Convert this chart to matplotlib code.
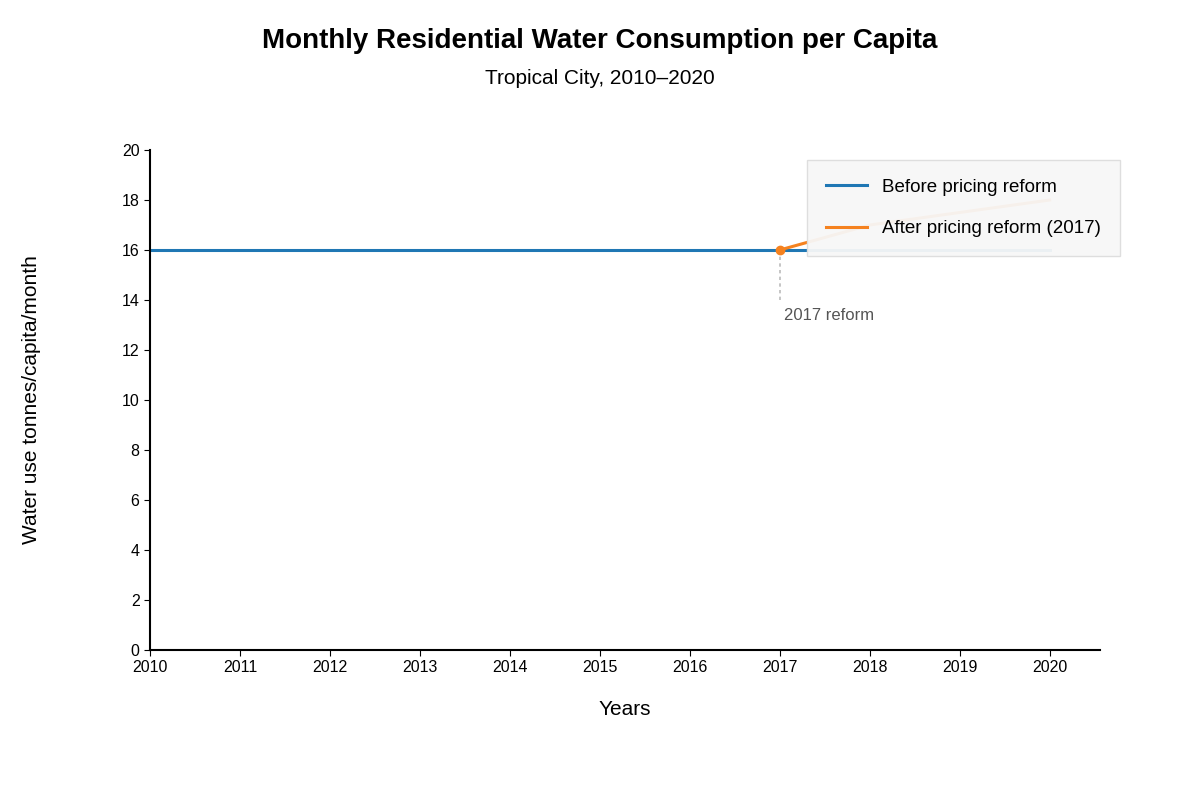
import matplotlib.pyplot as plt

plt.rcParams['font.family'] = ['Liberation Sans', 'DejaVu Sans']

# data
years_before = [2010, 2011, 2012, 2013, 2014, 2015, 2016, 2017, 2018, 2019, 2020]
use_before = [16, 16, 16, 16, 16, 16, 16, 16, 16, 16, 16]
years_after = [2017, 2018, 2019, 2020]
use_after = [16, 17.0, 17.5, 18.0]
year_ticks = list(range(2010, 2021))

fig = plt.figure(figsize=(12, 8), dpi=100)
ax = fig.add_axes([0.125, 0.1875, 0.7917, 0.625])

ax.plot(years_before, use_before, color='#1f77b4', lw=2.2, label='Before pricing reform', zorder=2)
ax.plot(years_after, use_after, color='#f5821f', lw=2.2, label='After pricing reform (2017)', zorder=3)
ax.plot([2017], [16], 'o', color='#f5821f', ms=6, zorder=4)
ax.plot([2017, 2017], [14, 16], ls=(0, (2, 2)), color='#bbbbbb', lw=1.2, zorder=1)
ax.text(2017.05, 13.4, '2017 reform', fontsize=12, color='#555555', va='center')

ax.set_xlim(2010, 2020.56)
ax.set_ylim(0, 20)
ax.set_xticks(year_ticks)
ax.set_yticks(range(0, 21, 2))
ax.tick_params(labelsize=11.5, length=4)
for s in ['top', 'right']:
    ax.spines[s].set_visible(False)
ax.spines['left'].set_linewidth(1.5)
ax.spines['bottom'].set_linewidth(1.5)

ax.set_xlabel('Years', fontsize=15, labelpad=18)
ax.set_ylabel('Water use tonnes/capita/month', fontsize=15, labelpad=58)

leg = ax.legend(loc='upper right', bbox_to_anchor=(1.021, 0.98), fontsize=13.5,
                frameon=True, fancybox=False, framealpha=0.95, borderpad=1.0,
                labelspacing=1.3, handlelength=2.2, borderaxespad=0)
leg.get_frame().set_facecolor('#f7f7f7')
leg.get_frame().set_edgecolor('#dddddd')
leg.set_zorder(5)

fig.text(0.5, 0.949, 'Monthly Residential Water Consumption per Capita', ha='center',
         va='center', fontsize=20, fontweight='bold')
fig.text(0.5, 0.902, 'Tropical City, 2010\u20132020', ha='center', va='center', fontsize=15)

fig.savefig('out.png')
